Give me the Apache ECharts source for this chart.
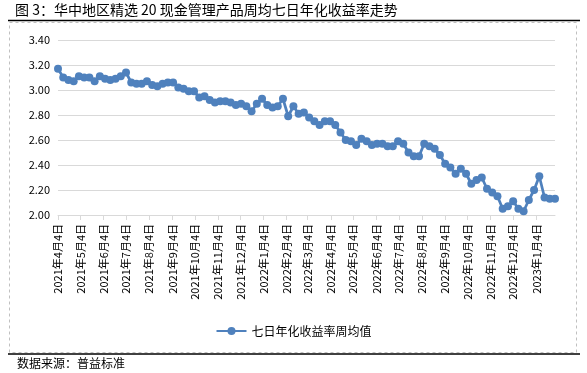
<!DOCTYPE html>
<html><head><meta charset="utf-8">
<script src="https://cdn.jsdelivr.net/npm/echarts@6/dist/echarts.min.js"></script>
<style>html,body{margin:0;padding:0;background:#fff}#c{width:587px;height:373px}</style>
</head><body><div id="c"></div>
<script>
const titleText = '图 3：华中地区精选 20 现金管理产品周均七日年化收益率走势';
const sourceText = '数据来源：普益标准';
const seriesName = '七日年化收益率周均值';
// first weekly observation (year, month, day); one point per week afterwards
const firstWeek = [2021, 4, 4];
const weeklyYield = [
  3.17,3.10,3.08,3.07,3.11,3.10,3.10,3.07,3.11,3.09,
  3.08,3.09,3.11,3.14,3.06,3.05,3.05,3.07,3.04,3.03,
  3.05,3.06,3.06,3.02,3.01,2.99,2.99,2.94,2.95,2.92,
  2.90,2.91,2.91,2.90,2.88,2.89,2.87,2.83,2.89,2.93,
  2.88,2.86,2.87,2.93,2.79,2.87,2.81,
  2.82,2.78,2.75,2.72,2.75,2.75,2.72,2.66,2.60,2.59,
  2.56,2.61,2.59,2.56,2.57,2.57,2.55,2.55,2.59,2.57,
  2.50,2.47,2.47,2.57,2.55,2.53,2.48,2.41,2.38,2.33,
  2.37,2.33,2.25,2.28,2.30,2.21,2.18,2.15,2.05,2.07,
  2.11,2.05,2.03,2.12,2.20,2.31,2.14,2.13,2.13
];
// x-axis tick labels: the 4th of each month
const tickMonths = [
  [2021,4],[2021,5],[2021,6],[2021,7],[2021,8],[2021,9],[2021,10],[2021,11],[2021,12],
  [2022,1],[2022,2],[2022,3],[2022,4],[2022,5],[2022,6],[2022,7],[2022,8],[2022,9],[2022,10],[2022,11],[2022,12],
  [2023,1]
];
const tickDay = 4;
const yMin = 2.0, yMax = 3.4, yStep = 0.2;

const DAY = 86400000;
const t0 = Date.UTC(firstWeek[0], firstWeek[1]-1, firstWeek[2]);
// x in days since first observation
const dayOf = (y, m, d) => Math.round((Date.UTC(y, m-1, d) - t0) / DAY);
const weekDays = weeklyYield.map((v, i) => dayOf(firstWeek[0], firstWeek[1], firstWeek[2] + 7*i));
const seriesData = weeklyYield.map((v, i) => [weekDays[i], v]);
const tickValues = tickMonths.map(m => dayOf(m[0], m[1], tickDay));

const font = '"Noto Sans CJK SC", "Noto Sans", sans-serif';
const blue = '#4f81bd';
const chart = echarts.init(document.getElementById('c'), null, {renderer: 'canvas'});
chart.setOption({
  animation: false,
  textStyle: {fontFamily: font},
  grid: {left: 58, right: 32, top: 40, bottom: 158, containLabel: false, outerBoundsMode: 'none'},
  legend: {
    data: [seriesName], left: 'center', top: 320,
    itemWidth: 30, itemHeight: 10, itemGap: 10,
    textStyle: {fontFamily: font, fontSize: 12, color: '#000'}
  },
  xAxis: {
    type: 'value',
    min: weekDays[0], max: weekDays[weekDays.length-1],
    axisLine: {show: true, lineStyle: {color: '#d9d9d9', width: 1}},
    axisTick: {show: true, customValues: tickValues, length: 5, lineStyle: {color: '#d9d9d9'}},
    splitLine: {show: false},
    axisLabel: {
      customValues: tickValues, rotate: 90, margin: 9, fontSize: 11, color: '#000', fontFamily: font,
      hideOverlap: false, showMinLabel: true, showMaxLabel: true,
      formatter: function (v) { const d = new Date(t0 + v*DAY); return d.getUTCFullYear() + '年' + (d.getUTCMonth()+1) + '月' + d.getUTCDate() + '日'; }
    }
  },
  yAxis: {
    type: 'value', min: yMin, max: yMax, interval: yStep,
    axisLine: {show: false}, axisTick: {show: false},
    splitLine: {show: true, lineStyle: {color: '#d9d9d9', width: 1}},
    axisLabel: {fontSize: 11, color: '#000', margin: 8, fontFamily: font, formatter: v => v.toFixed(2)}
  },
  series: [{
    name: seriesName, type: 'line', data: seriesData,
    symbol: 'circle', symbolSize: 8, showSymbol: true,
    lineStyle: {color: blue, width: 2.75}, itemStyle: {color: blue}
  }],
  graphic: [
    {type: 'text', left: 15, top: 3, style: {text: titleText, font: '14px ' + font, fill: '#000'}},
    {type: 'line', shape: {x1: 8, y1: 20.5, x2: 580, y2: 20.5}, style: {stroke: '#000', lineWidth: 1.5}},
    {type: 'rect', shape: {x: 9.5, y: 22.5, width: 567, height: 330}, style: {fill: 'none', stroke: '#c0c0c0', lineWidth: 1, lineDash: [3, 3]}},
    {type: 'line', shape: {x1: 8, y1: 354, x2: 580, y2: 354}, style: {stroke: '#000', lineWidth: 1.5}},
    {type: 'text', left: 17, top: 357, style: {text: sourceText, font: '12px ' + font, fill: '#000'}}
  ]
});
</script></body></html>
